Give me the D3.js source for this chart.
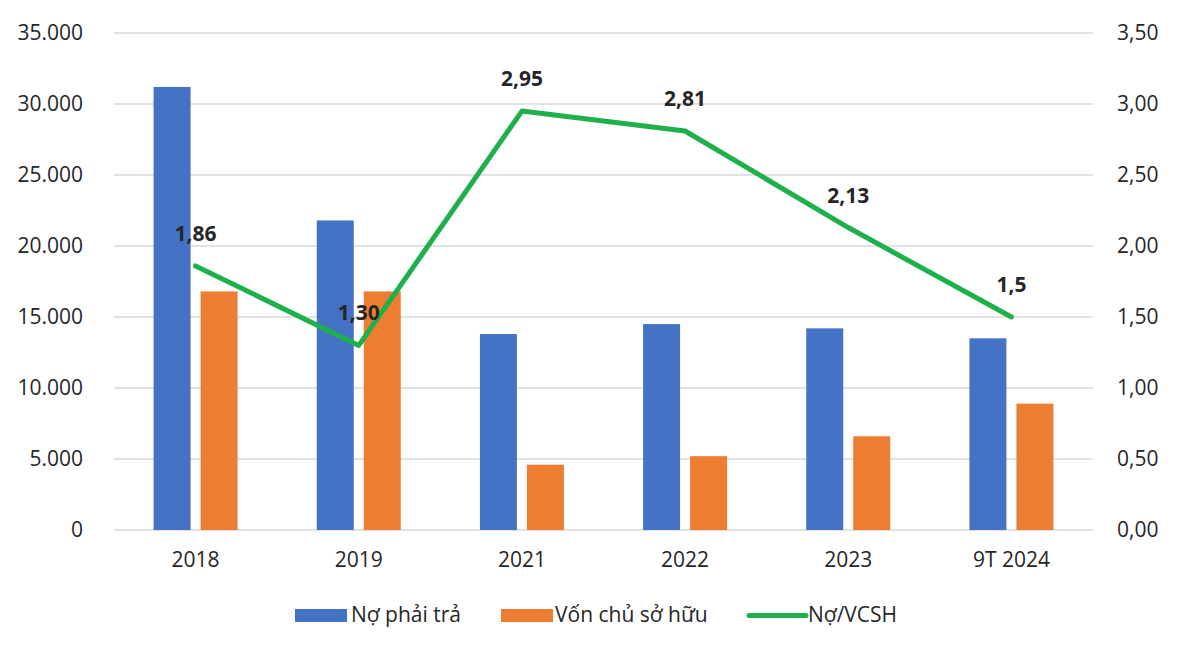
<!DOCTYPE html>
<html><head><meta charset="utf-8">
<script src="https://cdn.jsdelivr.net/npm/d3@7"></script>
<style>
body{margin:0;background:#fff;}
svg text{font-family:"Open Sans","Noto Sans",sans-serif;fill:#262626;}
</style></head>
<body>
<svg id="c" width="1200" height="646"></svg>
<script>
const categories = ["2018","2019","2021","2022","2023","9T 2024"];
const noPhaiTra = [31200,21800,13800,14500,14200,13500];
const vonCSH = [16800,16800,4600,5200,6600,8900];
const ratio = [1.86,1.30,2.95,2.81,2.13,1.5];
const ratioLabels = ["1,86","1,30","2,95","2,81","2,13","1,5"];
const leftTicks = [0,5000,10000,15000,20000,25000,30000,35000];
const rightTicks = [0,0.5,1,1.5,2,2.5,3,3.5];
const seriesNames = ["Nợ phải trả","Vốn chủ sở hữu","Nợ/VCSH"];
const colors = ["#4472C4","#ED7D31","#1DB04B"];

const svg = d3.select("#c");
const L=114, R=1093, T=33, B=530;
const FS = "21px";
const x = d3.scaleBand().domain(categories).range([L,R]);
const x1 = d3.scaleBand().domain([0,1]).range([0,84]).paddingInner(10/47);
const yL = d3.scaleLinear().domain([0,35000]).range([B,T]);
const yR = d3.scaleLinear().domain([0,3.5]).range([B,T]);
const fmtL = v => d3.format(",")(v).replace(/,/g,".");
const fmtR = v => d3.format(".2f")(v).replace(".",",");

// gridlines
svg.append("g").selectAll("line").data(leftTicks).join("line")
  .attr("x1",L).attr("x2",R).attr("y1",d=>yL(d)).attr("y2",d=>yL(d))
  .attr("stroke","#d9d9d9").attr("stroke-width",1.5);

// left axis
const gl = svg.append("g").attr("transform",`translate(${L},0)`)
  .call(d3.axisLeft(yL).tickValues(leftTicks).tickFormat(fmtL).tickSize(0).tickPadding(31));
gl.select(".domain").remove();
gl.selectAll("text").style("font-size",FS).attr("fill","#262626");

// right axis
const gr = svg.append("g").attr("transform",`translate(${R},0)`)
  .call(d3.axisRight(yR).tickValues(rightTicks).tickFormat(fmtR).tickSize(0).tickPadding(24));
gr.select(".domain").remove();
gr.selectAll("text").style("font-size",FS).attr("fill","#262626");

// x axis
const gx = svg.append("g").attr("transform",`translate(0,${B})`)
  .call(d3.axisBottom(x).tickSize(0).tickPadding(22));
gx.select(".domain").remove();
gx.selectAll("text").style("font-size",FS).attr("fill","#262626");

// bars
const barSeries = [noPhaiTra, vonCSH];
barSeries.forEach((vals,si)=>{
  svg.append("g").selectAll("rect").data(vals).join("rect")
    .attr("x",(d,i)=>x(categories[i])+x.bandwidth()/2-42+x1(si))
    .attr("width",x1.bandwidth())
    .attr("y",d=>yL(d)).attr("height",d=>B-yL(d))
    .attr("fill",colors[si]);
});

// line
const line = d3.line().x((d,i)=>x(categories[i])+x.bandwidth()/2).y(d=>yR(d));
svg.append("path").datum(ratio).attr("d",line)
  .attr("fill","none").attr("stroke",colors[2]).attr("stroke-width",5)
  .attr("stroke-linejoin","round").attr("stroke-linecap","round");

// labels
svg.append("g").selectAll("text").data(ratio).join("text")
  .attr("x",(d,i)=>x(categories[i])+x.bandwidth()/2)
  .attr("y",d=>yR(d)-25)
  .attr("text-anchor","middle")
  .style("font-size",FS).style("font-weight","bold")
  .attr("fill","#1a1a1a")
  .text((d,i)=>ratioLabels[i]);

// legend
const lg = svg.append("g");
const legItems = [
  {type:"rect",sx:295,tx:351},
  {type:"rect",sx:501,tx:555},
  {type:"line",sx:749,tx:808}
];
legItems.forEach((it,i)=>{
  if(it.type==="rect"){
    lg.append("rect").attr("x",it.sx).attr("y",609).attr("width",52).attr("height",13).attr("fill",colors[i]);
  } else {
    lg.append("line").attr("x1",it.sx).attr("x2",it.sx+57).attr("y1",615.5).attr("y2",615.5)
      .attr("stroke",colors[i]).attr("stroke-width",5).attr("stroke-linecap","round");
  }
  lg.append("text").attr("x",it.tx).attr("y",622).style("font-size",FS).text(seriesNames[i]);
});
</script>
</body></html>
